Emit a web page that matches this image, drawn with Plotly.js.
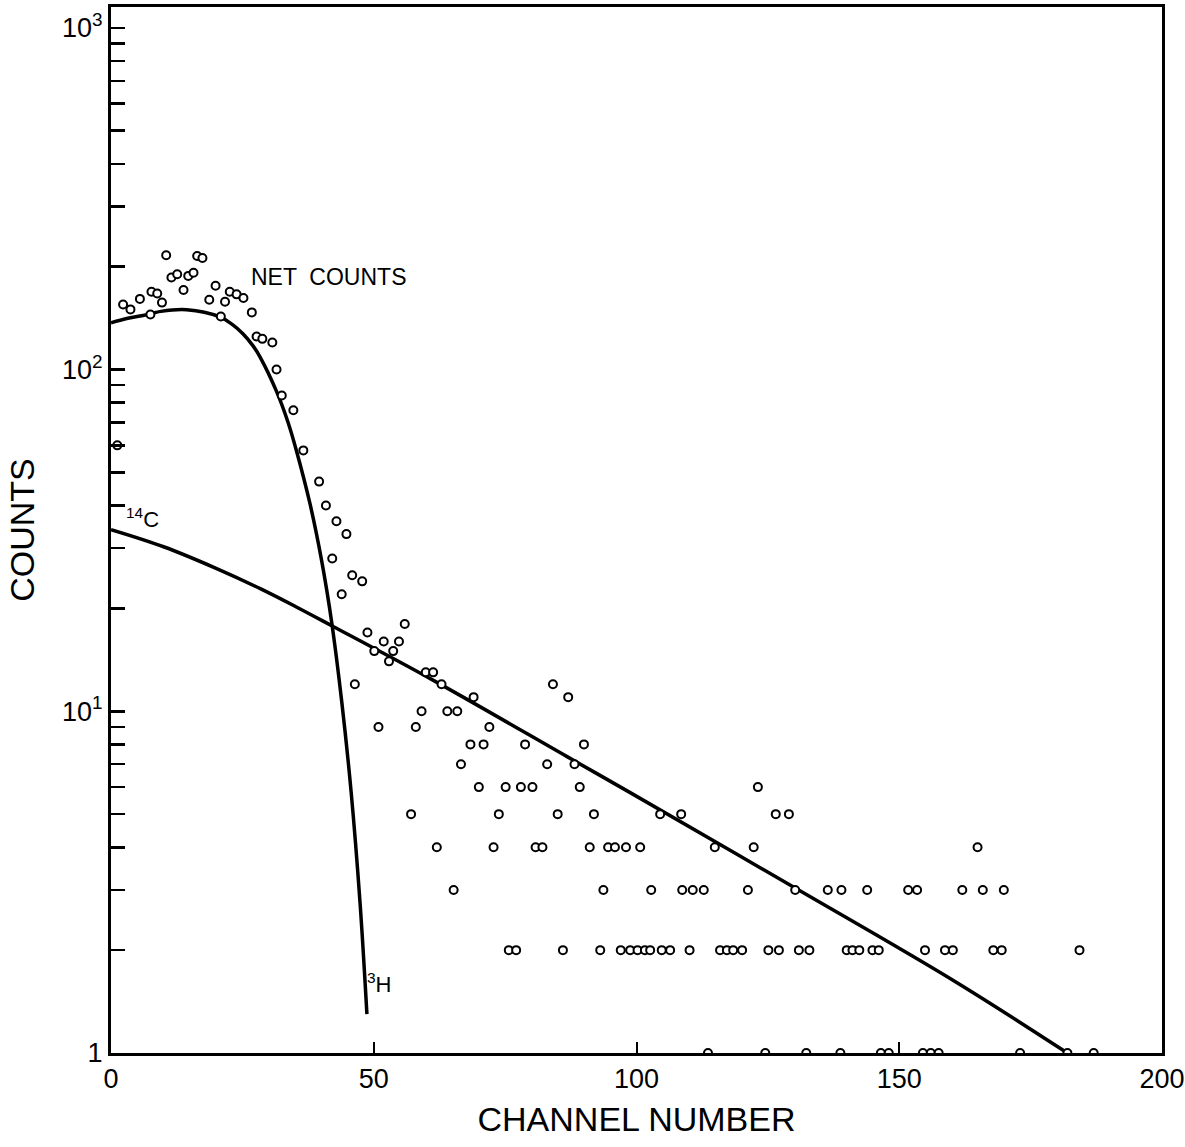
<!DOCTYPE html>
<html>
<head>
<meta charset="utf-8">
<script src="https://cdn.plot.ly/plotly-3.0.1.min.js"></script>
<style>
  html, body { margin: 0; padding: 0; background: #ffffff; }
  #chart { width: 1185px; height: 1147px; }
</style>
</head>
<body>
<div id="chart"></div>
<script>
// ---- Net counts (measured points) ----
const netX = [1.2, 2.3, 3.7, 5.5, 7.5, 7.7, 8.8, 9.7, 10.5, 11.5, 12.6, 13.8, 14.7, 15.7, 16.4, 17.4,
  18.7, 19.9, 20.9, 21.7, 22.6, 23.9, 25.2, 26.8, 27.7, 28.8, 30.7, 31.5, 32.5, 34.7, 36.6, 39.6,
  40.9, 42.9, 44.8, 42.1, 45.9, 47.8, 43.9, 55.9, 48.8, 51.9, 54.8, 50.1, 53.7, 52.9, 59.9, 61.3,
  62.9, 46.4, 69.0, 84.1, 87.0];
const netY = [60, 155, 150, 161, 145, 169, 167, 157, 216, 186, 190, 171, 188, 192, 215, 212,
  160, 176, 143, 158, 169, 166, 162, 147, 125, 123, 120, 100, 84, 76, 58, 47,
  40, 36, 33, 28, 25, 24, 22, 18, 17, 16, 16, 15, 15, 14, 13, 13,
  12, 12, 11, 12, 11];

// low-count rows (integer counts)
const row10X = [59.1, 64.0, 65.9];
const row9X  = [50.9, 58.0, 72.0];
const row8X  = [68.4, 70.9, 78.8, 90.0];
const row7X  = [66.6, 83.0, 88.2];
const row6X  = [70.0, 75.1, 78.0, 80.2, 89.2, 123.1];
const row5X  = [57.1, 73.8, 85.0, 91.9, 104.5, 108.5, 126.5, 129.0];
const row4X  = [62.0, 72.8, 80.8, 82.1, 91.1, 94.6, 95.9, 98.0, 100.7, 114.9, 122.3, 164.9];
const row3X  = [65.2, 93.7, 102.8, 108.7, 110.7, 112.8, 121.2, 130.2, 136.4, 139.0, 143.9,
  151.7, 153.4, 162.0, 165.9, 169.9];
const row2X  = [75.7, 77.1, 86.0, 93.1, 97.0, 98.8, 100.2, 101.6, 102.6, 104.8, 106.4, 110.1,
  115.9, 117.2, 118.4, 120.1, 125.1, 127.1, 130.9, 132.9, 140.0, 141.1, 142.4, 144.9, 146.1,
  154.9, 158.7, 160.2, 167.9, 169.5, 184.3];
const row1X  = [113.6, 124.5, 132.3, 138.8, 146.5, 148.0, 154.5, 156.0, 157.5, 173.0, 182.0, 187.0];

// ---- Fitted components ----
const h3X = [0, 3, 6.1, 9.5, 14.4, 20.7, 23.0, 25.1, 27.0, 28.4, 31.5, 33.7, 35.3, 37.9, 40.1, 42.0, 43.9, 45.7, 47.4, 48.7];
const h3Y = [137, 141, 144, 148, 149.6, 142.6, 135.8, 127.3, 117.5, 108.6, 86.3, 70, 57.8, 40.3, 27.5, 18.2, 10.7, 5.8, 2.74, 1.30];

const c14X = [0, 10, 20, 28.4, 35, 42, 61, 86.7, 98.8, 130.2, 160.3, 182];
const c14Y = [34, 30.3, 26.2, 22.85, 20.3, 17.8, 12.4, 7.38, 5.78, 3.04, 1.63, 1.0];

// ---- Axis ticks ----
const yTickVals = [1, 10, 100, 1000];
const yTickText = ['1', '10<sup>1</sup>', '10<sup>2</sup>', '10<sup>3</sup>'];
const yMinorVals = [2,3,4,5,6,7,8,9,20,30,40,50,60,70,80,90,200,300,400,500,600,700,800,900];
const xTickVals = [0, 50, 100, 150, 200];
const xTickText = ['0', '50', '100', '150', '200'];

// assemble scatter points from the rows
const rows = [[row10X,10],[row9X,9],[row8X,8],[row7X,7],[row6X,6],[row5X,5],[row4X,4],[row3X,3],[row2X,2],[row1X,1]];
let ptsX = netX.slice(), ptsY = netY.slice();
rows.forEach(([xs, v]) => { xs.forEach(x => { ptsX.push(x); ptsY.push(v); }); });

const FONT = '"Liberation Sans", Arial, sans-serif';

const traces = [
  { x: h3X, y: h3Y, mode: 'lines', line: { color: '#000', width: 3.5, shape: 'spline', smoothing: 1.0 }, hoverinfo: 'skip', showlegend: false },
  { x: c14X, y: c14Y, mode: 'lines', line: { color: '#000', width: 3.5, shape: 'spline', smoothing: 1.0 }, hoverinfo: 'skip', showlegend: false },
  { x: ptsX, y: ptsY, mode: 'markers', marker: { symbol: 'circle', size: 8, color: '#fff', line: { color: '#000', width: 2 } }, showlegend: false }
];

const layout = {
  width: 1185, height: 1147,
  margin: { l: 111, r: 23, t: 7, b: 94 },
  paper_bgcolor: '#fff', plot_bgcolor: '#fff',
  font: { family: FONT, color: '#000' },
  showlegend: false,
  xaxis: {
    range: [0, 200], tickmode: 'array', tickvals: xTickVals, ticktext: xTickText,
    ticks: 'inside', ticklen: 11, tickwidth: 2, tickcolor: '#000',
    showline: true, linewidth: 3, linecolor: '#000', mirror: true,
    showgrid: false, zeroline: false,
    tickfont: { family: FONT, size: 27, color: '#000' },
    title: { text: 'CHANNEL NUMBER', font: { family: FONT, size: 34, color: '#000' }, standoff: 14 }
  },
  yaxis: {
    type: 'log', range: [0, 3.061], tickmode: 'array', tickvals: yTickVals, ticktext: yTickText,
    ticks: 'inside', ticklen: 14, tickwidth: 2.5, tickcolor: '#000',
    minor: { tickmode: 'array', tickvals: yMinorVals, ticks: 'inside', ticklen: 14, tickwidth: 2.5, tickcolor: '#000', showgrid: false },
    showline: true, linewidth: 3, linecolor: '#000', mirror: true,
    showgrid: false, zeroline: false,
    tickfont: { family: FONT, size: 27, color: '#000' },
    title: { text: 'COUNTS', font: { family: FONT, size: 34, color: '#000' }, standoff: 18 }
  },
  annotations: [
    { x: 41.3, y: 2.272, xref: 'x', yref: 'y', text: 'NET  COUNTS', showarrow: false,
      font: { family: FONT, size: 23, color: '#000' } },
    { x: 5.9, y: 1.565, xref: 'x', yref: 'y', text: '<sup>14</sup>C', showarrow: false,
      font: { family: FONT, size: 22, color: '#000' } },
    { x: 51.0, y: 0.205, xref: 'x', yref: 'y', text: '<sup>3</sup>H', showarrow: false,
      font: { family: FONT, size: 22, color: '#000' } }
  ]
};

Plotly.newPlot('chart', traces, layout, { staticPlot: true, displayModeBar: false });
</script>
</body>
</html>
